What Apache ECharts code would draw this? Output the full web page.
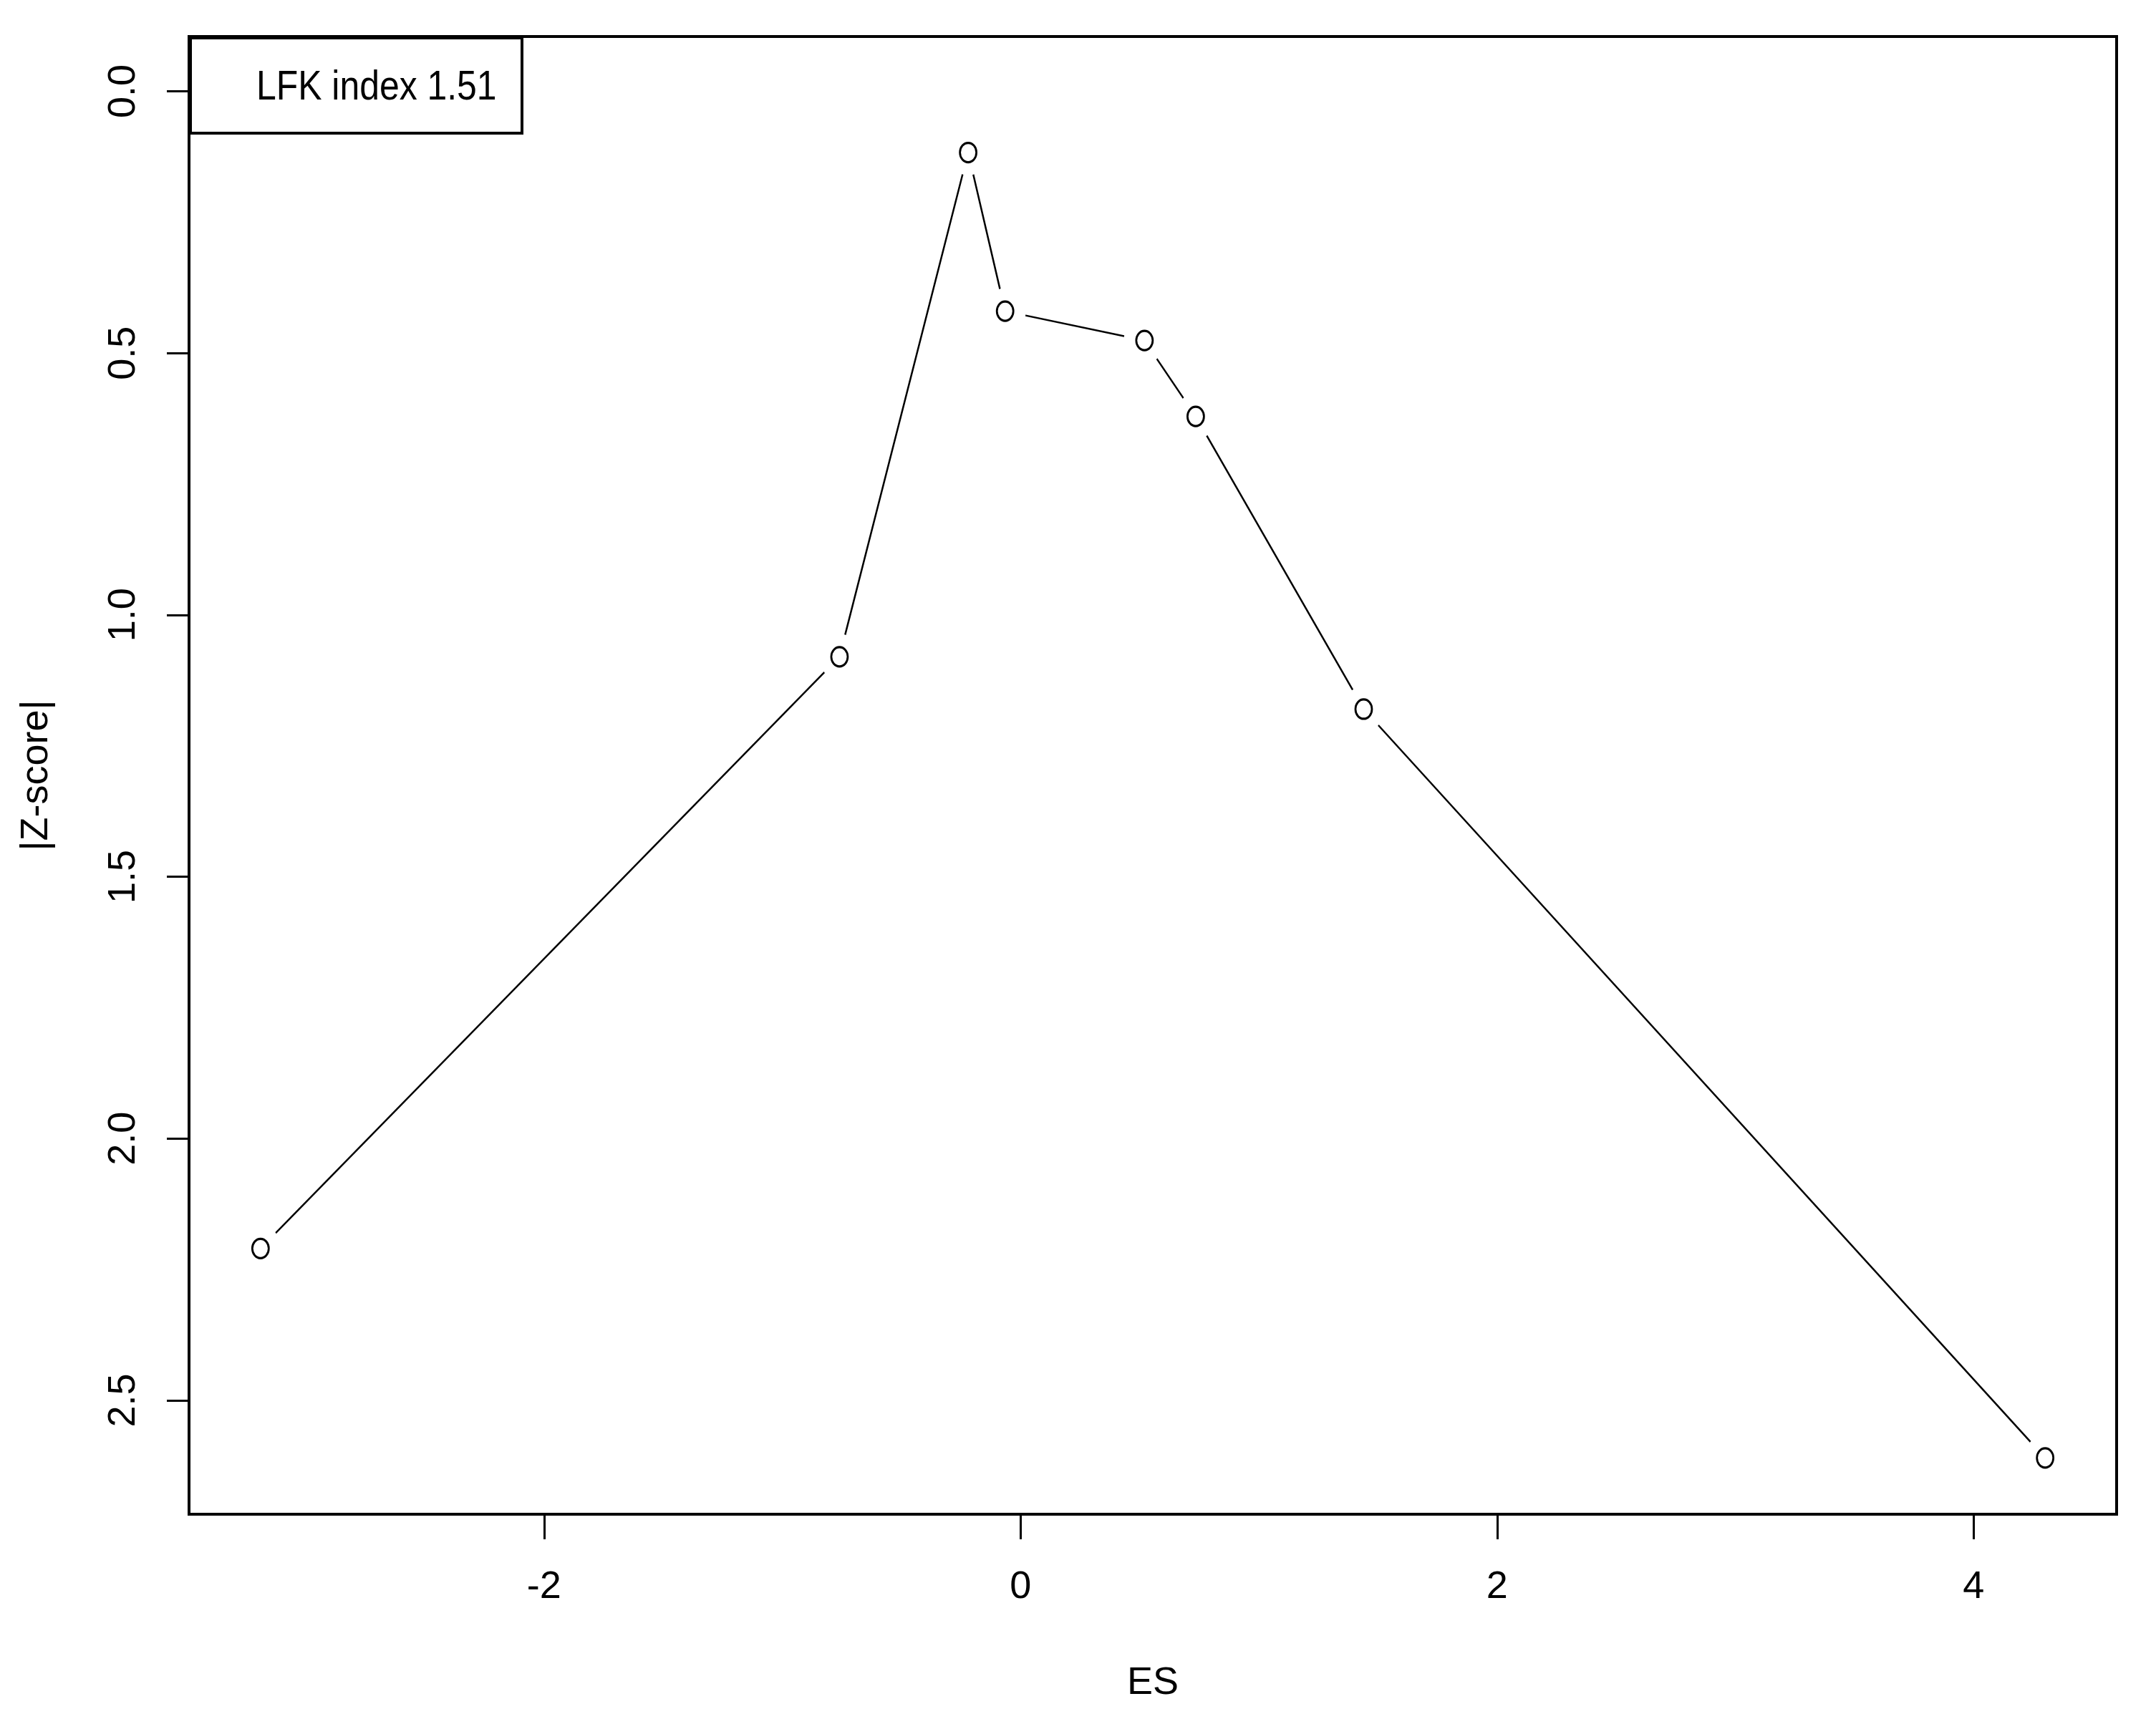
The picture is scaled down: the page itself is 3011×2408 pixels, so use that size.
<!DOCTYPE html>
<html>
<head>
<meta charset="utf-8">
<script src="https://cdn.jsdelivr.net/npm/echarts@6/dist/echarts.min.js"></script>
<style>
html,body{margin:0;padding:0;background:#fff;}
#chart{width:3011px;height:2408px;}
</style>
</head>
<body>
<div id="chart"></div>
<script>
// Data (Doi plot)
const esValues = [-3.19, -0.76, -0.22, -0.065, 0.52, 0.735, 1.44, 4.30];
const zValues  = [2.21, 1.08, 0.117, 0.42, 0.476, 0.621, 1.18, 2.61];
const xTicks = [-2, 0, 2, 4];
const yTicks = [0.0, 0.5, 1.0, 1.5, 2.0, 2.5];
const xName = 'ES';
const yName = '|Z-score|';
const legendText = 'LFK index 1.51';

const points = esValues.map((x, i) => [x, zValues[i]]);
const FONT = "'Liberation Sans', Arial, sans-serif";

const chart = echarts.init(document.getElementById('chart'), null, {renderer: 'canvas'});
chart.setOption({
  animation: false,
  backgroundColor: '#ffffff',
  grid: {
    left: 264, top: 51, right: 55, bottom: 293,
    show: true, borderColor: '#000', borderWidth: 4, backgroundColor: 'transparent'
  },
  xAxis: {
    type: 'value',
    min: -3.49, max: 4.60,
    name: xName,
    nameLocation: 'middle',
    nameGap: 209,
    nameTextStyle: {fontFamily: FONT, fontSize: 54, color: '#000'},
    splitLine: {show: false},
    axisLine: {show: true, onZero: false, lineStyle: {color: '#000', width: 4}},
    axisTick: {show: true, length: 35, lineStyle: {color: '#000', width: 3}, customValues: xTicks},
    axisLabel: {
      fontFamily: FONT, fontSize: 54, color: '#000', margin: 75,
      customValues: xTicks,
      formatter: v => String(v)
    }
  },
  yAxis: {
    type: 'value',
    inverse: true,
    min: -0.1045, max: 2.7175,
    name: yName,
    nameLocation: 'middle',
    nameGap: 186,
    nameRotate: 90,
    nameTextStyle: {fontFamily: FONT, fontSize: 54, color: '#000'},
    splitLine: {show: false},
    axisLine: {show: true, onZero: false, lineStyle: {color: '#000', width: 4}},
    axisTick: {show: true, length: 31, lineStyle: {color: '#000', width: 3}, customValues: yTicks},
    axisLabel: {
      fontFamily: FONT, fontSize: 54, color: '#000', margin: 64, rotate: 90,
      customValues: yTicks,
      formatter: v => Number(v).toFixed(1)
    }
  },
  series: [
    {
      type: 'line',
      data: points,
      showSymbol: false,
      symbol: 'none',
      lineStyle: {color: '#000', width: 2.5},
      z: 2
    },
    {
      type: 'scatter',
      data: points,
      symbol: 'circle',
      symbolSize: [58, 64],
      itemStyle: {color: '#fff', borderWidth: 0, opacity: 1},
      silent: true,
      z: 3
    },
    {
      type: 'scatter',
      data: points,
      symbol: 'circle',
      symbolSize: [23, 27],
      itemStyle: {color: '#fff', borderColor: '#000', borderWidth: 3, opacity: 1},
      z: 4
    }
  ],
  graphic: [
    {
      type: 'rect',
      left: 264, top: 51,
      shape: {width: 463, height: 133},
      style: {fill: '#fff', stroke: '#000', lineWidth: 4},
      z: 10
    },
    {
      type: 'text',
      x: 358, y: 123,
      scaleX: 0.86,
      style: {text: legendText, fontFamily: FONT, fontSize: 58, fill: '#000', verticalAlign: 'middle', align: 'left'},
      z: 11
    }
  ]
});
</script>
</body>
</html>
